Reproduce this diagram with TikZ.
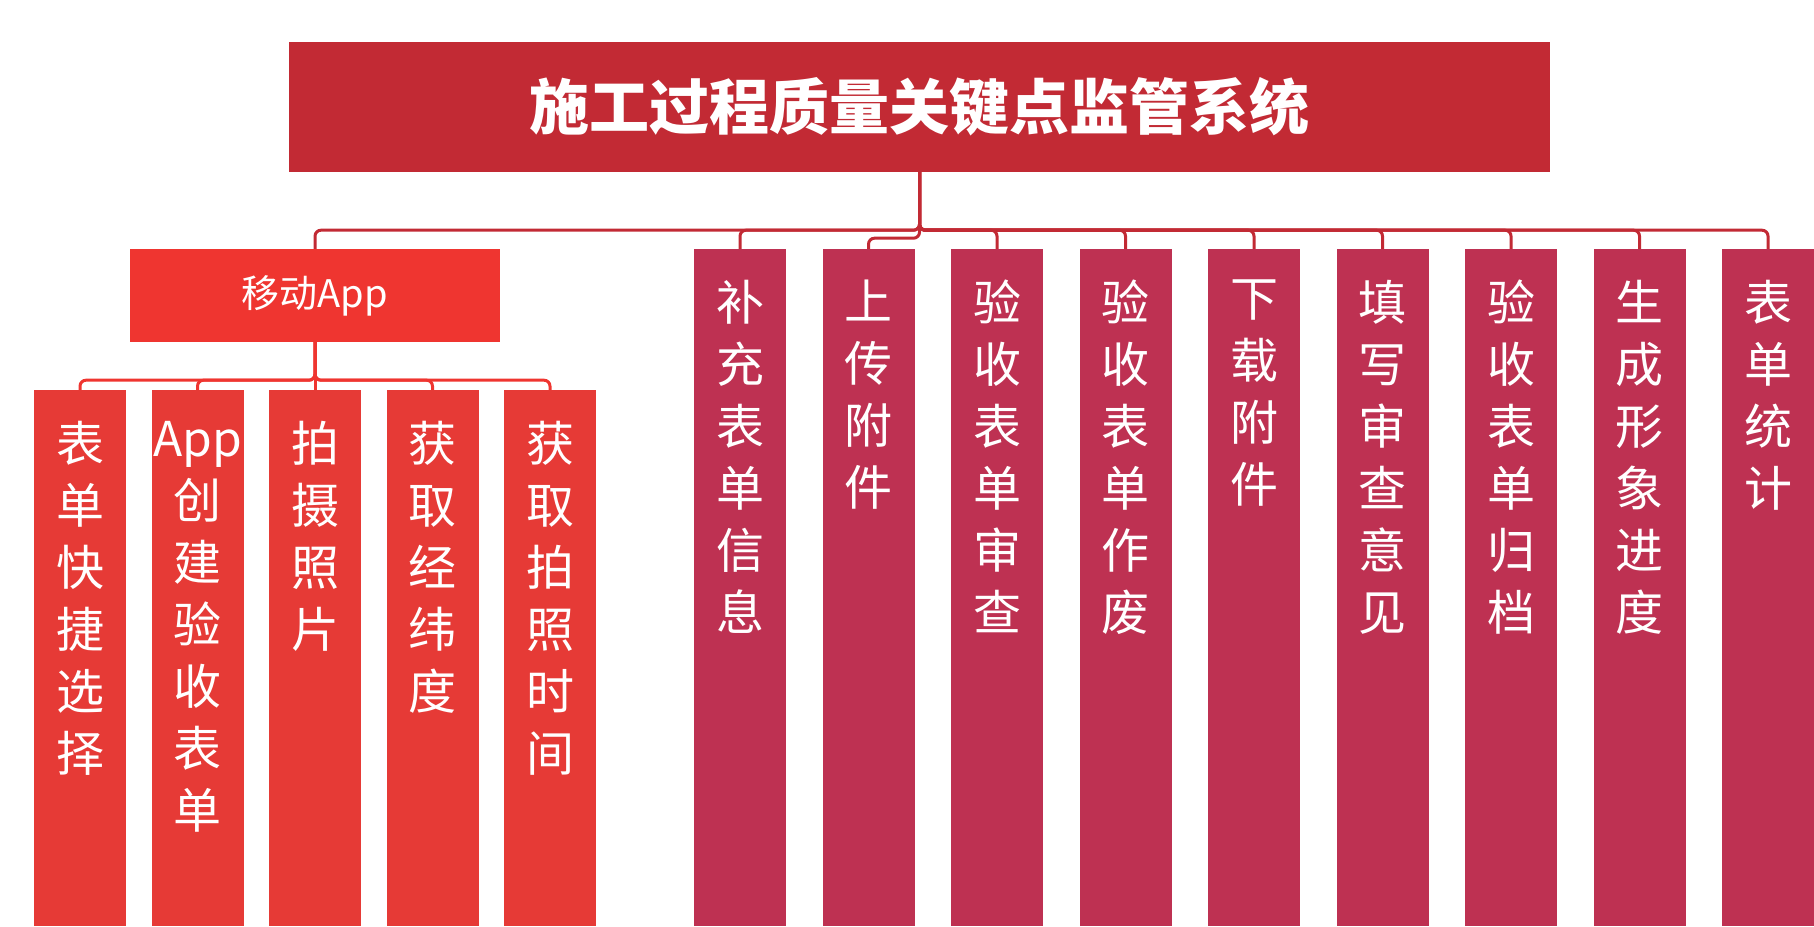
\documentclass[tikz,border=0pt]{standalone}
\usepackage{fontspec}
\setmainfont{Noto Sans CJK SC}
\usetikzlibrary{positioning}
\definecolor{titlered}{HTML}{C22A34}
\definecolor{appred}{HTML}{EF3530}
\definecolor{appbox}{HTML}{E63A36}
\definecolor{sysbox}{HTML}{BE3152}

\begin{document}
\begin{tikzpicture}[x=1pt, y=1pt, node distance=117.5pt, on grid,
  box/.style={rectangle, inner sep=0pt, minimum width=92pt},
  abox/.style={box, fill=appbox, minimum height=536pt},
  bbox/.style={box, fill=sysbox, minimum height=677pt},
  vtxt/.style={anchor=north, align=center, inner sep=0pt, yshift=-31pt, font=\fontsize{48}{62}\selectfont},
  link/.style={line width=3pt, rounded corners=6pt}]
\tikzstyle{every node}=[text=white]
\useasboundingbox (0,0) rectangle (1814,926);
   \node[rectangle, fill=titlered, minimum width=1261pt, minimum height=130pt, font=\fontsize{60}{60}\selectfont\bfseries](t) at (919.5,819){施工过程质量关键点监管系统};
   \node[rectangle, fill=appred, minimum width=370pt, minimum height=93pt, font=\fontsize{38}{38}\selectfont](app) at (315,630.5){移动App};
   \node[abox, label={[vtxt]north:表\\单\\快\\捷\\选\\择}](a1) at (80,268){};
   \node[abox, label={[vtxt]north:App\\创\\建\\验\\收\\表\\单}](a2)[right=of a1]{};
   \node[abox, label={[vtxt]north:拍\\摄\\照\\片}](a3)[right=of a2]{};
\node[abox, label={[vtxt]north:获\\取\\经\\纬\\度}](a4)[right=of a3]{};
\node[abox, label={[vtxt]north:获\\取\\拍\\照\\时\\间}](a5)[right=of a4]{};
\node[bbox, label={[vtxt]north:补\\充\\表\\单\\信\\息}](b1) at (740,338.5){};
\node[bbox, label={[vtxt]north:上\\传\\附\\件}](b2)[right=128.5pt of b1]{};
\node[bbox, label={[vtxt]north:验\\收\\表\\单\\审\\查}](b3)[right=128.5pt of b2]{};
\node[bbox, label={[vtxt]north:验\\收\\表\\单\\作\\废}](b4)[right=128.5pt of b3]{};
\node[bbox, label={[vtxt]north:下\\载\\附\\件}](b5)[right=128.5pt of b4]{};
\node[bbox, label={[vtxt]north:填\\写\\审\\查\\意\\见}](b6)[right=128.5pt of b5]{};
\node[bbox, label={[vtxt]north:验\\收\\表\\单\\归\\档}](b7)[right=128.5pt of b6]{};
\node[bbox, label={[vtxt]north:生\\成\\形\\象\\进\\度}](b8)[right=128.5pt of b7]{};
\node[bbox, label={[vtxt]north:表\\单\\统\\计}](b9)[right=128.5pt of b8]{};
   \draw[link, titlered](t.south) -- ++(0,-58) -| (app.north);
   \draw[link, titlered](t.south) -- ++(0,-58) -| (b1.north);
   \draw[link, titlered](t.south) -- ++(0,-66) -| (b2.north);
\draw[link, titlered](t.south) -- ++(0,-58) -| (b3.north);
\draw[link, titlered](t.south) -- ++(0,-58) -| (b4.north);
\draw[link, titlered](t.south) -- ++(0,-58) -| (b5.north);
\draw[link, titlered](t.south) -- ++(0,-58) -| (b6.north);
\draw[link, titlered](t.south) -- ++(0,-58) -| (b7.north);
\draw[link, titlered](t.south) -- ++(0,-58) -| (b8.north);
\draw[link, titlered](t.south) -- ++(0,-58) -| (b9.north);
\draw[link, appred](app.south) -- ++(0,-38) -| (a1.north);
\draw[link, appred](app.south) -- ++(0,-38) -| (a2.north);
\draw[link, appred](app.south) -- ++(0,-38) -| (a3.north);
\draw[link, appred](app.south) -- ++(0,-38) -| (a4.north);
\draw[link, appred](app.south) -- ++(0,-38) -| (a5.north);

 \end{tikzpicture}
\end{document}
